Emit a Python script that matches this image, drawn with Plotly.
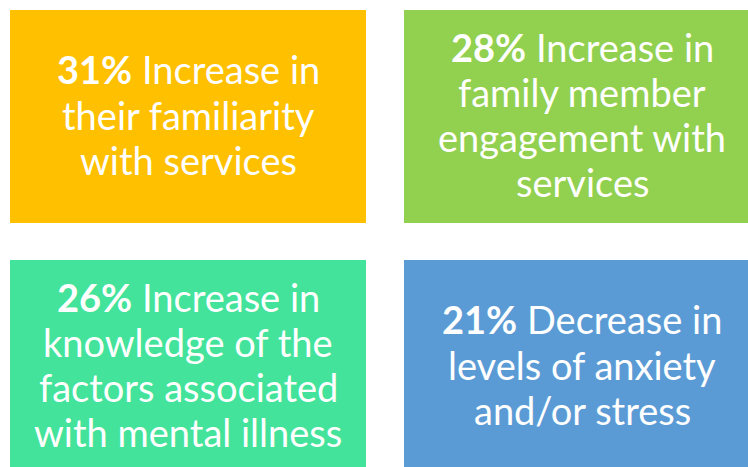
import plotly.graph_objects as go

# ---- data ----
percentages = [31, 28, 26, 21]
directions = ["Increase in", "Increase in", "Increase in", "Decrease in"]
detail_lines = [
    ["their familiarity", "with services"],
    ["family member", "engagement with", "services"],
    ["knowledge of the", "factors associated", "with mental illness"],
    ["levels of anxiety", "and/or stress"],
]
box_colors = ["#FFC000", "#92D050", "#43E39B", "#5B9BD5"]

# ---- layout constants ----
W, H = 748, 467
col_x0 = [10, 404]
row_y0 = [10, 260]
box_w, box_h = 356, 213
font_size = 38
line_gap = 45.3
font_family = "Lato, 'Open Sans', sans-serif"

fig = go.Figure()
fig.add_trace(go.Scatter(x=[0, W], y=[0, H], mode="markers",
                         marker=dict(opacity=0), hoverinfo="skip", showlegend=False))

shapes = []
annotations = []
for i in range(4):
    r, c = divmod(i, 2)
    x0 = col_x0[c]
    y0 = row_y0[r]
    shapes.append(dict(type="rect", xref="x", yref="y",
                       x0=x0, x1=x0 + box_w, y0=y0, y1=y0 + box_h,
                       fillcolor=box_colors[i], line=dict(width=0), layer="below"))
    lines = [f"<b>{percentages[i]}%</b> {directions[i]}"] + detail_lines[i]
    n = len(lines)
    cx = x0 + box_w / 2
    cy = y0 + box_h / 2 - 2
    for j, txt in enumerate(lines):
        annotations.append(dict(
            x=cx, y=cy + (j - (n - 1) / 2) * line_gap, xref="x", yref="y",
            text=txt, showarrow=False, xanchor="center", yanchor="middle",
            font=dict(family=font_family, size=font_size, color="white")))

fig.update_layout(
    width=W, height=H,
    margin=dict(l=0, r=0, t=0, b=0),
    paper_bgcolor="white", plot_bgcolor="white",
    xaxis=dict(range=[0, W], visible=False, fixedrange=True),
    yaxis=dict(range=[H, 0], visible=False, fixedrange=True),
    shapes=shapes, annotations=annotations, showlegend=False,
)

fig.write_html("out.html", config={"displayModeBar": False},
               post_script="document.body.style.margin='0';document.body.style.overflow='hidden';")
